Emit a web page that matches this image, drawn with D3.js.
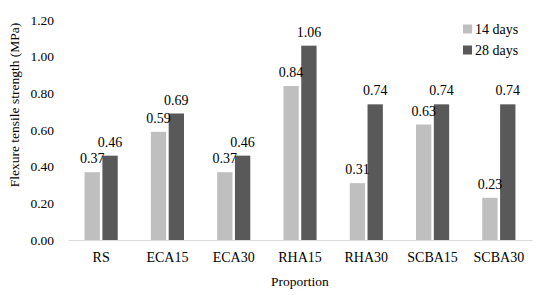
<!DOCTYPE html>
<html>
<head>
<meta charset="utf-8">
<script src="https://cdn.jsdelivr.net/npm/d3@7"></script>
<style>
  body { margin: 0; background: #fff; }
  text { font-family: "Liberation Serif", "Times New Roman", serif; fill: #000; }
</style>
</head>
<body>
<svg id="chart"></svg>
<script>
const categories = ['RS', 'ECA15', 'ECA30', 'RHA15', 'RHA30', 'SCBA15', 'SCBA30'];
const seriesNames = ['14 days', '28 days'];
const days14 = [0.37, 0.59, 0.37, 0.84, 0.31, 0.63, 0.23];
const days28 = [0.46, 0.69, 0.46, 1.06, 0.74, 0.74, 0.74];
const yTicks = [0, 0.2, 0.4, 0.6, 0.8, 1.0, 1.2];
const colors = ['#bfbfbf', '#595959'];

const width = 542, height = 295;
const margin = {top: 20, right: 10, bottom: 55, left: 68};

const svg = d3.select('#chart')
    .attr('width', width)
    .attr('height', height);

const innerW = width - margin.left - margin.right;
const innerH = height - margin.top - margin.bottom;

const chart = svg.append('g')
    .attr('transform', `translate(${margin.left},${margin.top})`);

const xScale = d3.scaleBand()
    .domain(categories)
    .range([0, innerW])
    .paddingInner(0.5)
    .paddingOuter(0.25);

const xSub = d3.scaleBand()
    .domain(seriesNames)
    .range([0, xScale.bandwidth()])
    .paddingInner(0.14);

const yScale = d3.scaleLinear()
    .domain([0, 1.2])
    .range([innerH, 0]);

// y axis (no line, labels only)
const yAxisG = chart.append('g')
    .call(d3.axisLeft(yScale).tickValues(yTicks).tickFormat(d3.format('.2f')).tickSize(0).tickPadding(14))
    .call(g => g.select('.domain').remove());
yAxisG.selectAll('text')
    .style('font-size', '13.5px')
    .style('font-family', '"Liberation Serif", serif')
    .attr('fill', '#000');

// x axis
const xAxisG = chart.append('g')
    .attr('transform', `translate(0,${innerH})`)
    .call(d3.axisBottom(xScale).tickSize(0).tickPadding(12));
xAxisG.select('.domain').attr('stroke', '#d9d9d9').attr('stroke-width', 1.2);
xAxisG.selectAll('text')
    .style('font-size', '14px')
    .style('font-family', '"Liberation Serif", serif')
    .attr('fill', '#000');

const rows = categories.map((c, i) => ({cat: c, vals: [days14[i], days28[i]]}));

const groups = chart.selectAll('.grp')
  .data(rows)
  .join('g')
    .attr('class', 'grp')
    .attr('transform', d => `translate(${xScale(d.cat)},0)`);

groups.selectAll('rect')
  .data(d => d.vals.map((v, j) => ({key: seriesNames[j], v, j})))
  .join('rect')
    .attr('x', d => xSub(d.key))
    .attr('y', d => yScale(d.v))
    .attr('width', xSub.bandwidth())
    .attr('height', d => innerH - yScale(d.v))
    .attr('fill', d => colors[d.j]);

groups.selectAll('.val')
  .data(d => d.vals.map((v, j) => ({key: seriesNames[j], v, j})))
  .join('text')
    .attr('class', 'val')
    .attr('x', d => xSub(d.key) + xSub.bandwidth() / 2)
    .attr('y', d => yScale(d.v) - 9)
    .attr('text-anchor', 'middle')
    .style('font-size', '14px')
    .text(d => d.v.toFixed(2));

// axis titles
svg.append('text')
    .attr('x', margin.left + innerW / 2)
    .attr('y', 286)
    .attr('text-anchor', 'middle')
    .style('font-size', '13.5px')
    .text('Proportion');

svg.append('text')
    .attr('transform', 'rotate(-90)')
    .attr('x', -105)
    .attr('y', 19)
    .attr('text-anchor', 'middle')
    .style('font-size', '13.5px')
    .text('Flexure tensile strength (MPa)');

// legend
const legend = svg.append('g')
    .attr('transform', 'translate(463,29)');
const items = legend.selectAll('g')
  .data(seriesNames)
  .join('g')
    .attr('transform', (d, i) => `translate(0,${i * 21})`);
items.append('rect')
    .attr('x', 0).attr('y', -4.5)
    .attr('width', 9).attr('height', 9)
    .attr('fill', (d, i) => colors[i]);
items.append('text')
    .attr('x', 12)
    .attr('y', 5)
    .style('font-size', '14px')
    .text(d => d);
</script>
</body>
</html>
